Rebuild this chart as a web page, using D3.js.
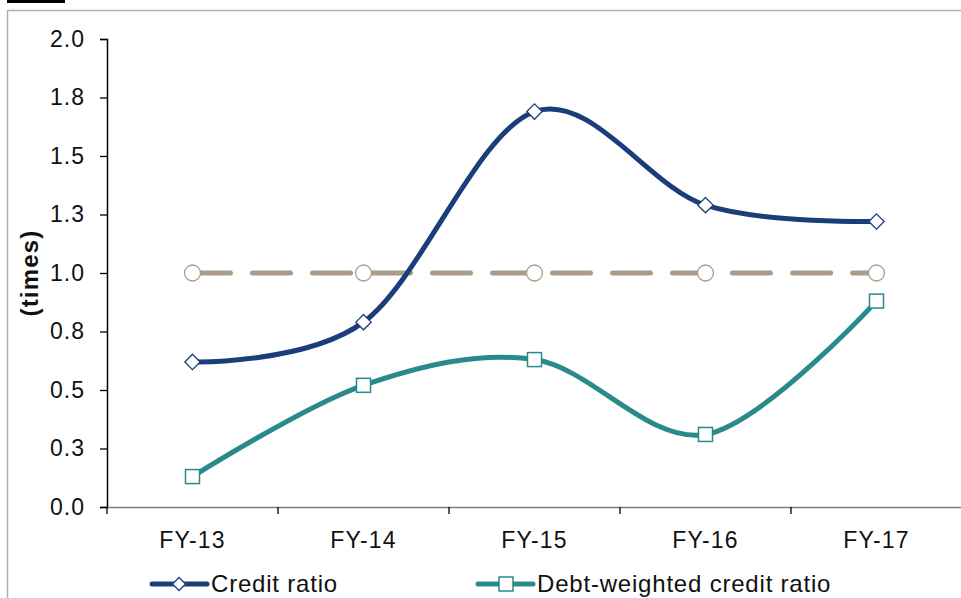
<!DOCTYPE html>
<html>
<head>
<meta charset="utf-8">
<script src="https://cdn.jsdelivr.net/npm/d3@7"></script>
<style>
  body { margin: 0; background: #fff; }
  svg { display: block; font-family: "Liberation Sans", Arial, sans-serif; }
</style>
</head>
<body>
<div id="chart"></div>
<script>
// chart data
var years = ["FY-13", "FY-14", "FY-15", "FY-16", "FY-17"];
var creditRatio = [0.62, 0.79, 1.69, 1.29, 1.22];
var debtWeighted = [0.13, 0.52, 0.63, 0.31, 0.88];
var benchmark = [1.0, 1.0, 1.0, 1.0, 1.0];
var yTicks = [0, 0.25, 0.5, 0.75, 1.0, 1.25, 1.5, 1.75, 2.0];

var W = 961, H = 598;
var svg = d3.select("#chart").append("svg")
    .attr("width", W)
    .attr("height", H);

// frame around the chart + black tab at top left
svg.append("rect")
    .attr("x", 7.5).attr("y", 10.5)
    .attr("width", W + 10).attr("height", H + 10)
    .attr("fill", "none").attr("stroke", "#b0b0b0").attr("stroke-width", 1.5);
svg.append("rect")
    .attr("x", 7).attr("y", 0).attr("width", 58).attr("height", 3)
    .attr("fill", "#000");

var x = d3.scaleBand().domain(years).range([107, 962]);
var y = d3.scaleLinear().domain([0, 2]).range([507, 39]);

// y axis
var yAxis = svg.append("g")
    .attr("transform", "translate(107,0)")
    .call(d3.axisLeft(y).tickValues(yTicks).tickSize(7).tickPadding(15)
        .tickFormat(function(d) { return d3.format(".1f")(Math.round(d * 10) / 10); }));
yAxis.select(".domain").attr("stroke", "#000").attr("stroke-width", 1.5);
yAxis.selectAll(".tick line").attr("stroke", "#000").attr("stroke-width", 1.3);
yAxis.selectAll("text").attr("font-size", 23).attr("fill", "#111")
    .attr("letter-spacing", 1)
    .attr("font-family", "Liberation Sans, Arial, sans-serif");

// x axis
var xAxis = svg.append("g")
    .attr("transform", "translate(0,507)")
    .call(d3.axisBottom(x).tickSize(0).tickPadding(25));
xAxis.select(".domain").attr("stroke", "#808080").attr("stroke-width", 1.5);
xAxis.selectAll("text").attr("font-size", 23).attr("fill", "#111")
    .attr("letter-spacing", 1.2)
    .attr("font-family", "Liberation Sans, Arial, sans-serif");
// tick marks between categories
var bounds = years.map(function(d) { return x(d); }).concat([x.range()[1]]);
svg.append("g").selectAll("line")
    .data(bounds)
    .enter()
    .append("line")
    .attr("x1", function(d) { return d; }).attr("x2", function(d) { return d; })
    .attr("y1", 507).attr("y2", 514)
    .attr("stroke", "#000").attr("stroke-width", 1.3);

// y axis title
svg.append("text")
    .attr("transform", "translate(38,273) rotate(-90)")
    .attr("text-anchor", "middle")
    .attr("font-size", 24).attr("font-weight", "bold").attr("fill", "#111")
    .attr("letter-spacing", 1.2)
    .text("(times)");

var cx = function(d, i) { return x(years[i]) + x.bandwidth() / 2; };
var line = d3.line()
    .x(cx)
    .y(function(d) { return y(d); })
    .curve(d3.curveCatmullRom.alpha(0));

// benchmark dashed line
svg.append("path")
    .datum(benchmark)
    .attr("d", line)
    .attr("fill", "none").attr("stroke", "#aa9c88").attr("stroke-width", 5)
    .attr("stroke-dasharray", "38 22").attr("stroke-linecap", "round");

svg.append("path")
    .datum(debtWeighted)
    .attr("d", line)
    .attr("fill", "none").attr("stroke", "#2a8a8b").attr("stroke-width", 5);

svg.append("path")
    .datum(creditRatio)
    .attr("d", line)
    .attr("fill", "none").attr("stroke", "#1b3e7b").attr("stroke-width", 5);

// markers
svg.append("g").selectAll("circle")
    .data(benchmark)
    .enter()
    .append("circle")
    .attr("cx", cx).attr("cy", function(d) { return y(d); })
    .attr("r", 8)
    .attr("fill", "#fff").attr("stroke", "#aa9c88").attr("stroke-width", 1.3);

svg.append("g").selectAll("rect")
    .data(debtWeighted)
    .enter()
    .append("rect")
    .attr("x", function(d, i) { return cx(d, i) - 7; })
    .attr("y", function(d) { return y(d) - 7; })
    .attr("width", 14).attr("height", 14)
    .attr("fill", "#fff").attr("stroke", "#2a8a8b").attr("stroke-width", 1.5);

var diamond = d3.symbol().type(d3.symbolDiamond2).size(150);
svg.append("g").selectAll("path")
    .data(creditRatio)
    .enter()
    .append("path")
    .attr("d", diamond)
    .attr("transform", function(d, i) { return "translate(" + cx(d, i) + "," + y(d) + ")"; })
    .attr("fill", "#fff").attr("stroke", "#1b3e7b").attr("stroke-width", 1.3);

// legend
var legend = [
    {name: "Credit ratio", color: "#1b3e7b", x0: 152, marker: "diamond"},
    {name: "Debt-weighted credit ratio", color: "#2a8a8b", x0: 478, marker: "square"}
];
var lg = svg.append("g").selectAll("g")
    .data(legend)
    .enter()
    .append("g")
    .attr("transform", function(d) { return "translate(" + d.x0 + ",584)"; });
lg.append("line")
    .attr("x1", 0).attr("x2", 55).attr("y1", 0).attr("y2", 0)
    .attr("stroke", function(d) { return d.color; })
    .attr("stroke-width", 5).attr("stroke-linecap", "round");
lg.each(function(d) {
    var g = d3.select(this);
    if (d.marker == "diamond") {
        g.append("path").attr("d", d3.symbol().type(d3.symbolDiamond2).size(110))
            .attr("transform", "translate(27,0)")
            .attr("fill", "#fff").attr("stroke", d.color).attr("stroke-width", 1.3);
    } else {
        g.append("rect").attr("x", 21).attr("y", -7).attr("width", 14).attr("height", 14)
            .attr("fill", "#fff").attr("stroke", d.color).attr("stroke-width", 1.5);
    }
});
lg.append("text")
    .attr("x", 59).attr("y", 8)
    .attr("font-size", 24).attr("fill", "#111")
    .attr("letter-spacing", 0.8)
    .text(function(d) { return d.name; });
</script>
</body>
</html>
